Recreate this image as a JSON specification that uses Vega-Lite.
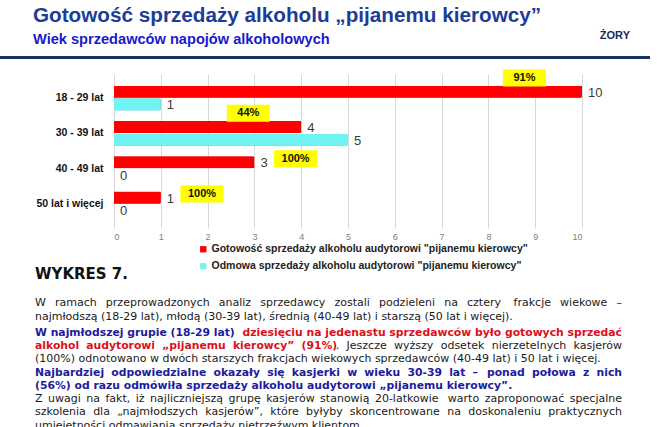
{
  "$schema": "https://vega.github.io/schema/vega-lite/v6.json",
  "background": "white",
  "padding": {"left": 0, "top": 4, "right": 0, "bottom": 0},
  "bounds": "flush",
  "spacing": 15,
  "resolve": {"scale": {"color": "independent"}, "legend": {"color": "independent"}},
  "config": {
    "view": {"stroke": null},
    "font": "Liberation Sans",
    "axisX": {"domain": false, "ticks": false, "grid": true, "gridColor": "#d9d9d9", "gridWidth": 1, "labelColor": "#808080", "labelFontSize": 9, "labelPadding": 4, "labelFont": "Liberation Sans"},
    "axisY": {"domain": false, "ticks": false, "grid": false, "labelFontSize": 10.5, "labelFontWeight": "bold", "labelColor": "#111111", "labelPadding": 3, "labelFont": "Liberation Sans"}
  },
  "datasets": {
    "slupki": [
      {"wiek": "18 - 29 lat", "seria": "Gotowość sprzedaży alkoholu audytorowi \"pijanemu kierowcy\"", "n": 10},
      {"wiek": "18 - 29 lat", "seria": "Odmowa sprzedaży alkoholu audytorowi \"pijanemu kierowcy\"", "n": 1},
      {"wiek": "30 - 39 lat", "seria": "Gotowość sprzedaży alkoholu audytorowi \"pijanemu kierowcy\"", "n": 4},
      {"wiek": "30 - 39 lat", "seria": "Odmowa sprzedaży alkoholu audytorowi \"pijanemu kierowcy\"", "n": 5},
      {"wiek": "40 - 49 lat", "seria": "Gotowość sprzedaży alkoholu audytorowi \"pijanemu kierowcy\"", "n": 3},
      {"wiek": "40 - 49 lat", "seria": "Odmowa sprzedaży alkoholu audytorowi \"pijanemu kierowcy\"", "n": 0},
      {"wiek": "50 lat i więcej", "seria": "Gotowość sprzedaży alkoholu audytorowi \"pijanemu kierowcy\"", "n": 1},
      {"wiek": "50 lat i więcej", "seria": "Odmowa sprzedaży alkoholu audytorowi \"pijanemu kierowcy\"", "n": 0}
    ],
    "ramki": [
      {"wiek": "18 - 29 lat", "pct": "91%", "od": 8.31, "do": 9.23},
      {"wiek": "30 - 39 lat", "pct": "44%", "od": 2.41, "do": 3.33},
      {"wiek": "40 - 49 lat", "pct": "100%", "od": 3.42, "do": 4.34},
      {"wiek": "50 lat i więcej", "pct": "100%", "od": 1.42, "do": 2.34}
    ],
    "tekst": [
      {"wiersz": -2.2, "strona": "lewa", "styl": "naglowek", "tekst": "WYKRES 7."},
      {"wiersz": 0, "strona": "lewa", "styl": "zwykly", "tekst": "W\u2002\u2004ramach\u2002\u2004przeprowadzonych\u2002\u2004analiz\u2002\u2004sprzedawcy\u2002\u2004zostali\u2002\u2004podzieleni\u2002\u2004na\u2002\u2004cztery"},
      {"wiersz": 0, "strona": "prawa", "styl": "zwykly", "tekst": "frakcje\u2002\u2004wiekowe\u2002\u2004–"},
      {"wiersz": 1, "strona": "lewa", "styl": "zwykly", "tekst": "najmłodszą (18-29 lat), młodą (30-39 lat), średnią (40-49 lat) i starszą (50 lat i więcej)."},
      {"wiersz": 2.2, "strona": "lewa", "styl": "niebieski", "tekst": "W najmłodszej grupie (18-29 lat)"},
      {"wiersz": 2.2, "strona": "prawa", "styl": "czerwony", "tekst": "dziesięciu na jedenastu sprzedawców było gotowych sprzedać"},
      {"wiersz": 3.2, "strona": "lewa", "styl": "czerwony", "tekst": "alkohol\u2002\u2006audytorowi\u2002\u2006„pijanemu\u2002\u2006kierowcy”\u2002\u2006(91%)"},
      {"wiersz": 3.2, "strona": "prawa", "styl": "zwykly", "tekst": ".\u2002\u2006Jeszcze\u2002\u2006wyższy\u2002\u2006odsetek\u2002\u2006nierzetelnych\u2002\u2006kasjerów"},
      {"wiersz": 4.2, "strona": "lewa", "styl": "zwykly", "tekst": "(100%) odnotowano w dwóch starszych frakcjach wiekowych sprzedawców (40-49 lat) i 50 lat i więcej."},
      {"wiersz": 5.2, "strona": "lewa", "styl": "niebieski", "tekst": "Najbardziej\u2002\u2006odpowiedzialne\u2002\u2006okazały\u2002\u2006się\u2002\u2006kasjerki\u2002\u2006w\u2002\u2006wieku\u2002\u200630-39\u2002\u2006lat\u2002\u2006–"},
      {"wiersz": 5.2, "strona": "prawa", "styl": "niebieski", "tekst": "ponad\u2002\u2006połowa\u2002\u2006z\u2002\u2006nich"},
      {"wiersz": 6.2, "strona": "lewa", "styl": "niebieski", "tekst": "(56%) od razu odmówiła sprzedaży alkoholu audytorowi „pijanemu kierowcy”."},
      {"wiersz": 7.2, "strona": "lewa", "styl": "zwykly", "tekst": "Z\u2002uwagi\u2002na\u2002fakt,\u2002iż\u2002najliczniejszą\u2002grupę\u2002kasjerów\u2002stanowią\u200220-latkowie"},
      {"wiersz": 7.2, "strona": "prawa", "styl": "zwykly", "tekst": "warto\u2002zaproponować\u2002specjalne"},
      {"wiersz": 8.2, "strona": "lewa", "styl": "zwykly", "tekst": "szkolenia\u2002\u2006dla\u2002\u2006„najmłodszych\u2002\u2006kasjerów”,\u2002\u2006które\u2002\u2006byłyby"},
      {"wiersz": 8.2, "strona": "prawa", "styl": "zwykly", "tekst": "skoncentrowane\u2002\u2006na\u2002\u2006doskonaleniu\u2002\u2006praktycznych"},
      {"wiersz": 9.2, "strona": "lewa", "styl": "zwykly", "tekst": "umiejętności odmawiania sprzedaży nietrzeźwym klientom."}
    ]
  },
  "vconcat": [
    {
      "width": 650,
      "height": 3,
      "view": {"fill": "#17325e", "stroke": null},
      "title": {
        "text": "Gotowość sprzedaży alkoholu „pijanemu kierowcy”",
        "subtitle": "Wiek sprzedawców napojów alkoholowych",
        "anchor": "start",
        "frame": "group",
        "dx": 33,
        "font": "Liberation Sans",
        "fontSize": 20.7,
        "fontWeight": "bold",
        "color": "#1c3d96",
        "subtitleFont": "Liberation Sans",
        "subtitleFontSize": 14.6,
        "subtitleFontWeight": "bold",
        "subtitleColor": "#1a1acc",
        "subtitlePadding": 6,
        "offset": 8
      },
      "data": {"values": []},
      "mark": {"type": "rule", "opacity": 0},
      "encoding": {}
    },
    {
      "width": 640,
      "height": 154,
      "title": {"text": "ŻORY", "anchor": "end", "orient": "top", "offset": 0, "dx": -10, "dy": -18, "baseline": "bottom", "font": "Liberation Sans", "fontSize": 11, "fontWeight": "bold", "color": "#1a2a5a"},
      "encoding": {
        "y": {
          "field": "wiek",
          "type": "nominal",
          "sort": ["18 - 29 lat", "30 - 39 lat", "40 - 49 lat", "50 lat i więcej"],
          "scale": {"paddingInner": 0.3, "paddingOuter": 0.33},
          "title": null,
          "axis": {"offset": -106}
        }
      },
      "layer": [
        {
          "data": {"name": "slupki"},
          "transform": [{"filter": "datum.seria[0] == 'G'"}],
          "mark": {"type": "bar", "x2Offset": 3, "cornerRadiusEnd": 2, "color": "#b50000"},
          "encoding": {
            "x": {"field": "n", "type": "quantitative", "title": null, "scale": {"domain": [0, 10], "range": [114, 582]}, "axis": {"values": [0, 1, 2, 3, 4, 5, 6, 7, 8, 9, 10]}},
            "yOffset": {"field": "seria", "type": "nominal", "scale": {"domain": ["Gotowość sprzedaży alkoholu audytorowi \"pijanemu kierowcy\"", "Odmowa sprzedaży alkoholu audytorowi \"pijanemu kierowcy\""], "paddingInner": 0.05}}
          }
        },
        {
          "data": {"name": "slupki"},
          "transform": [{"filter": "datum.seria[0] == 'O'"}],
          "mark": {"type": "bar", "x2Offset": 3, "cornerRadiusEnd": 2, "color": "#35a8a8"},
          "encoding": {
            "x": {"field": "n", "type": "quantitative", "title": null, "scale": {"domain": [0, 10], "range": [114, 582]}, "axis": {"values": [0, 1, 2, 3, 4, 5, 6, 7, 8, 9, 10]}},
            "yOffset": {"field": "seria", "type": "nominal", "scale": {"domain": ["Gotowość sprzedaży alkoholu audytorowi \"pijanemu kierowcy\"", "Odmowa sprzedaży alkoholu audytorowi \"pijanemu kierowcy\""], "paddingInner": 0.05}}
          }
        },
        {
          "data": {"name": "slupki"},
          "mark": {"type": "bar", "cornerRadiusEnd": 1},
          "encoding": {
            "x": {"field": "n", "type": "quantitative", "title": null, "scale": {"domain": [0, 10], "range": [114, 582]}, "axis": {"values": [0, 1, 2, 3, 4, 5, 6, 7, 8, 9, 10]}},
            "yOffset": {"field": "seria", "type": "nominal", "scale": {"domain": ["Gotowość sprzedaży alkoholu audytorowi \"pijanemu kierowcy\"", "Odmowa sprzedaży alkoholu audytorowi \"pijanemu kierowcy\""], "paddingInner": 0.05}},
            "color": {
              "field": "seria",
              "type": "nominal",
              "scale": {"domain": ["Gotowość sprzedaży alkoholu audytorowi \"pijanemu kierowcy\"", "Odmowa sprzedaży alkoholu audytorowi \"pijanemu kierowcy\""], "range": ["#ff0000", "#6ff3f3"]},
              "legend": {"orient": "none", "legendX": 198, "legendY": 170, "title": null, "symbolType": "square", "symbolSize": 40, "symbolStrokeWidth": 0, "labelFont": "Liberation Sans", "labelFontSize": 10.5, "labelFontWeight": "bold", "labelColor": "#222222", "rowPadding": 6, "labelOffset": 3, "labelLimit": 600}
            }
          }
        },
        {
          "data": {"name": "slupki"},
          "mark": {"type": "text", "align": "left", "baseline": "middle", "dx": 6, "dy": 1, "font": "Liberation Sans", "fontSize": 13, "color": "#3a3a3a"},
          "encoding": {
            "x": {"field": "n", "type": "quantitative", "title": null, "scale": {"domain": [0, 10], "range": [114, 582]}, "axis": {"values": [0, 1, 2, 3, 4, 5, 6, 7, 8, 9, 10]}},
            "yOffset": {"field": "seria", "type": "nominal", "scale": {"domain": ["Gotowość sprzedaży alkoholu audytorowi \"pijanemu kierowcy\"", "Odmowa sprzedaży alkoholu audytorowi \"pijanemu kierowcy\""], "paddingInner": 0.05}},
            "text": {"field": "n", "type": "quantitative"}
          }
        },
        {
          "data": {"name": "ramki"},
          "transform": [{"filter": {"field": "wiek", "oneOf": ["18 - 29 lat", "30 - 39 lat"]}}],
          "mark": {"type": "bar", "height": 17, "yOffset": -20, "color": "#ffff00"},
          "encoding": {
            "x": {"field": "od", "type": "quantitative", "title": null, "scale": {"domain": [0, 10], "range": [114, 582]}, "axis": {"values": [0, 1, 2, 3, 4, 5, 6, 7, 8, 9, 10]}},
            "x2": {"field": "do"}
          }
        },
        {
          "data": {"name": "ramki"},
          "transform": [{"filter": {"field": "wiek", "oneOf": ["40 - 49 lat", "50 lat i więcej"]}}],
          "mark": {"type": "bar", "height": 17, "yOffset": -10, "color": "#ffff00"},
          "encoding": {
            "x": {"field": "od", "type": "quantitative", "title": null, "scale": {"domain": [0, 10], "range": [114, 582]}, "axis": {"values": [0, 1, 2, 3, 4, 5, 6, 7, 8, 9, 10]}},
            "x2": {"field": "do"}
          }
        },
        {
          "data": {"name": "ramki"},
          "transform": [{"filter": {"field": "wiek", "oneOf": ["18 - 29 lat", "30 - 39 lat"]}}, {"calculate": "(datum.od + datum.do) / 2", "as": "srodek"}],
          "mark": {"type": "text", "align": "center", "baseline": "middle", "yOffset": -20, "font": "Liberation Sans", "fontSize": 11, "fontWeight": "bold", "color": "#111111"},
          "encoding": {
            "x": {"field": "srodek", "type": "quantitative", "title": null, "scale": {"domain": [0, 10], "range": [114, 582]}, "axis": {"values": [0, 1, 2, 3, 4, 5, 6, 7, 8, 9, 10]}},
            "text": {"field": "pct"}
          }
        },
        {
          "data": {"name": "ramki"},
          "transform": [{"filter": {"field": "wiek", "oneOf": ["40 - 49 lat", "50 lat i więcej"]}}, {"calculate": "(datum.od + datum.do) / 2", "as": "srodek"}],
          "mark": {"type": "text", "align": "center", "baseline": "middle", "yOffset": -10, "font": "Liberation Sans", "fontSize": 11, "fontWeight": "bold", "color": "#111111"},
          "encoding": {
            "x": {"field": "srodek", "type": "quantitative", "title": null, "scale": {"domain": [0, 10], "range": [114, 582]}, "axis": {"values": [0, 1, 2, 3, 4, 5, 6, 7, 8, 9, 10]}},
            "text": {"field": "pct"}
          }
        }
      ]
    },
    {
      "width": 664,
      "height": 186,
      "data": {"name": "tekst"},
      "encoding": {
        "x": {"field": "strona", "type": "nominal", "scale": {"type": "point", "domain": ["lewa", "prawa"], "range": [35, 622], "padding": 0}, "axis": null},
        "y": {"field": "wiersz", "type": "quantitative", "scale": {"domain": [-4.55, 9.45], "reverse": true, "nice": false, "zero": false}, "axis": null},
        "text": {"field": "tekst"},
        "color": {"field": "styl", "type": "nominal", "scale": {"domain": ["zwykly", "niebieski", "czerwony", "naglowek"], "range": ["#1a1a1a", "#1c1c9c", "#dc1020", "#111111"]}, "legend": null}
      },
      "layer": [
        {
          "transform": [{"filter": "datum.strona == 'lewa' && datum.styl == 'zwykly'"}],
          "mark": {"type": "text", "align": "left", "baseline": "middle", "font": "DejaVu Sans", "fontSize": 11}
        },
        {
          "transform": [{"filter": "datum.strona == 'lewa' && (datum.styl == 'niebieski' || datum.styl == 'czerwony')"}],
          "mark": {"type": "text", "align": "left", "baseline": "middle", "font": "DejaVu Sans", "fontSize": 10.8, "fontWeight": "bold"}
        },
        {
          "transform": [{"filter": "datum.strona == 'prawa' && datum.styl == 'zwykly'"}],
          "mark": {"type": "text", "align": "right", "baseline": "middle", "font": "DejaVu Sans", "fontSize": 11}
        },
        {
          "transform": [{"filter": "datum.strona == 'prawa' && (datum.styl == 'niebieski' || datum.styl == 'czerwony')"}],
          "mark": {"type": "text", "align": "right", "baseline": "middle", "font": "DejaVu Sans", "fontSize": 10.8, "fontWeight": "bold"}
        },
        {
          "transform": [{"filter": "datum.styl == 'naglowek'"}],
          "mark": {"type": "text", "align": "left", "baseline": "middle", "font": "DejaVu Sans", "fontSize": 15, "fontWeight": "bold"}
        }
      ]
    }
  ]
}
